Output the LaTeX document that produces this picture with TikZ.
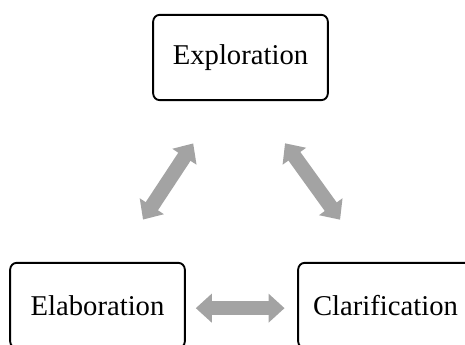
\documentclass[tikz,border=0pt]{standalone}
\usepackage{fontspec}
\setmainfont{Liberation Serif}
\usetikzlibrary{arrows.meta, calc}

\begin{document}
\begin{tikzpicture}[x=0.75pt, y=-0.75pt,
stage/.style={draw, line width=1.4pt, rounded corners=5pt, fill=white, minimum width=131pt, minimum height=64pt, font=\fontsize{21.5}{25}\selectfont},
fatarrow/.style={line width=11pt, color=black!36, {Triangle[width=21pt, length=12pt]}-{Triangle[width=21pt, length=12pt]}}]
\useasboundingbox (0,0) rectangle (465,345);
\node [stage] (explo) at (240.5,57.5) {Exploration};
\node [stage] (elab) at (97.5,305.5) {Elaboration};
\node [stage] (clar) at (385.5,305.5) {Clarification};
\coordinate (elabtop) at ($(elab.north west)!0.6!(elab.north east)$);
\coordinate (explol) at ($(explo.south west)!0.39!(explo.south east)$);
\coordinate (explor) at ($(explo.south west)!0.58!(explo.south east)$);
\coordinate (clartop) at ($(clar.north west)!0.415!(clar.north east)$);
\draw [fatarrow, shorten <=38pt, shorten >=38pt] (elabtop) -- (explol);
\draw [fatarrow, shorten <=39pt, shorten >=39pt] (explor) -- (clartop);
\draw [fatarrow, shorten <=7.5pt, shorten >=9.5pt] ([yshift=-2pt]elab.east) -- ([yshift=-2pt]clar.west);
\end{tikzpicture}
\end{document}
